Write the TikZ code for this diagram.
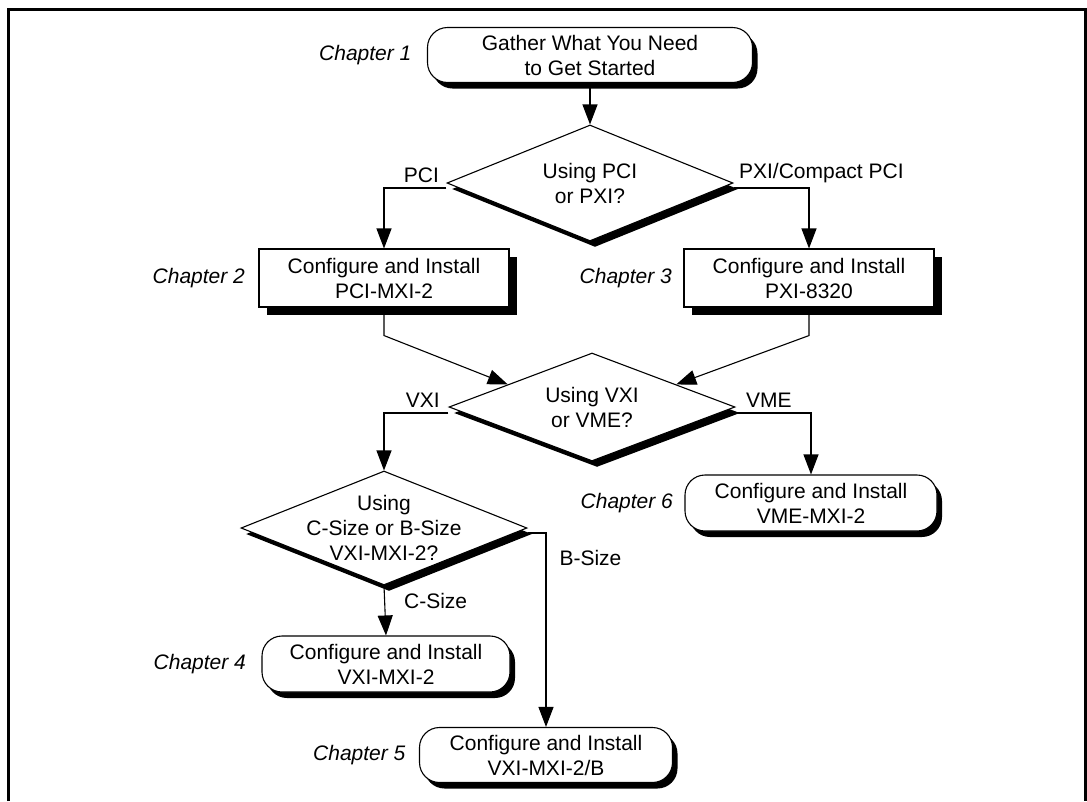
\documentclass[tikz,border=0pt]{standalone}
\usepackage{fontspec}
\setmainfont{Liberation Sans}
\usetikzlibrary{shapes.geometric,arrows.meta,positioning,shadows}

\begin{document}
\begin{tikzpicture}[
    x=1pt, y=-1pt,
    font=\fontsize{21pt}{25pt}\selectfont,
    roundbox/.style={draw, line width=1.1pt, fill=white, rounded corners=20pt, align=center,
        minimum width=252pt, minimum height=56pt, inner sep=0pt,
        drop shadow={shadow xshift=5pt, shadow yshift=-6pt, opacity=1, fill=black}},
    squarebox/.style={draw, line width=1.1pt, fill=white, align=center,
        minimum width=250pt, minimum height=58pt, inner sep=0pt,
        drop shadow={shadow xshift=8pt, shadow yshift=-8pt, opacity=1, fill=black}},
    choice/.style={diamond, draw, line width=1.1pt, fill=white, align=center, inner sep=0pt,
        shape aspect=2.55, minimum width=286pt, minimum height=112pt,
        drop shadow={shadow xshift=5pt, shadow yshift=-6pt, opacity=1, fill=black}},
    chapnode/.style={font=\fontsize{21pt}{25pt}\selectfont\itshape},
    branch/.style={inner sep=5pt},
    arr/.style={line width=1.1pt, -{Triangle[length=20pt, width=15pt]}}
]
\useasboundingbox (0,0) rectangle (1087,801);

% Page frame
\draw[line width=3pt] (8.5,801) -- (8.5,9.5) -- (1085.5,9.5) -- (1085.5,801);

% Boxes and decisions
\node[roundbox, minimum width=325pt, minimum height=55pt] (gather) at (590,55) {Gather What You Need\\to Get Started};
\node[choice, minimum height=116pt] (dia1) at (590,183) {Using PCI\\or PXI?};

\node[squarebox] (pci) at (384,278) {Configure and Install\\PCI-MXI-2};
\node[squarebox] (pxi) at (809,278) {Configure and Install\\PXI-8320};

\node[choice, minimum height=108pt] (dia2) at (592,407) {Using VXI\\or VME?};
\node[roundbox] (vme) at (811,503) {Configure and Install\\VME-MXI-2};

\node[choice, minimum height=114pt, inner sep=-9pt] (dia3) at (384,528) {Using\\C-Size or B-Size\\VXI-MXI-2?};
\node[roundbox, minimum width=248pt] (cfour) at (386,664) {Configure and Install\\VXI-MXI-2};
\node[roundbox, minimum width=253pt, minimum height=55pt] (cfive) at (546,755) {Configure and Install\\VXI-MXI-2/B};

% Chapter labels
\node[chapnode, left=12pt of gather] (chap1) {Chapter 1};
\node[chapnode, left=10pt of pci] (chap2) {Chapter 2};
\node[chapnode, left=8pt of pxi] (chap3) {Chapter 3};
\node[chapnode, left=12pt of cfour] (chap4) {Chapter 4};
\node[chapnode, left=10pt of cfive] (chap5) {Chapter 5};
\node[chapnode, left=8pt of vme] (chap6) {Chapter 6};

% Connectors
\draw[arr] (gather) -- (dia1);
\draw[arr] ([yshift=-5pt]dia1.west) -| node[branch, pos=0.2, above] (lpci) {PCI} (pci.north);
\draw[arr] ([yshift=-5pt]dia1.east) -| node[branch, pos=0, above right] (lpxi) {PXI/Compact PCI} (pxi.north);

\draw[arr] (pci.south) -- ++(0,28) -- (dia2.165);
\draw[arr] (pxi.south) -- ++(0,28) -- (dia2.15);

\draw[arr] ([yshift=-6pt]dia2.west) -| node[branch, pos=0.2, above] (lvxi) {VXI} (dia3.north);
\draw[arr] ([yshift=-6pt]dia2.east) -| node[branch, pos=0.22, above] (lvme) {VME} (vme.north);

\draw[arr] (dia3.south) -- node[branch, pos=0.3, right=14pt] (lcsize) {C-Size} (cfour.north);
\draw[arr] ([yshift=-5pt]dia3.east) -| node[branch, pos=0.565, right=8pt] (lbsize) {B-Size} (cfive.north);

\end{tikzpicture}
\end{document}
